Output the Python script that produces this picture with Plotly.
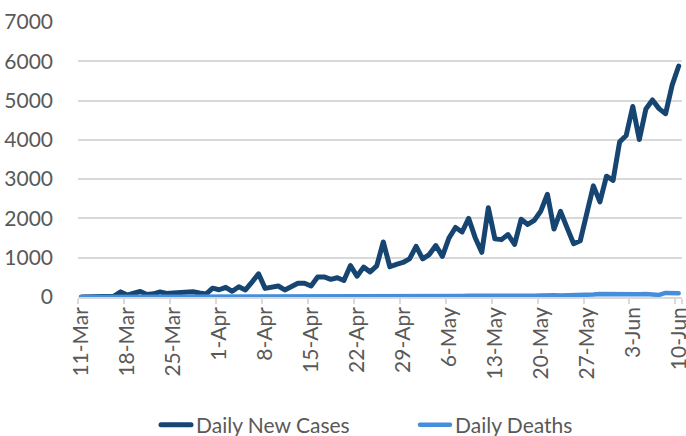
import pandas as pd
import plotly.graph_objects as go

# Categories: daily dates 11-Mar .. 10-Jun
dates = [d.strftime("%-d-%b") for d in pd.date_range("2020-03-11", "2020-06-10", freq="D")]

tick_labels = ["11-Mar", "18-Mar", "25-Mar", "1-Apr", "8-Apr", "15-Apr", "22-Apr",
               "29-Apr", "6-May", "13-May", "20-May", "27-May", "3-Jun", "10-Jun"]

daily_new_cases = [
    0, 2, 1, 5, 3, 20, 130, 50, 95, 140,
    65, 80, 130, 90, 100, 110, 115, 135, 100, 75,
    225, 185, 245, 145, 260, 180, 380, 590, 220, 250,
    280, 180, 265, 350, 350, 280, 510, 510, 450, 490,
    420, 800, 530, 760, 640, 790, 1400, 770, 830, 880,
    970, 1290, 970, 1080, 1310, 1035, 1500, 1770, 1655, 2000,
    1510, 1137, 2270, 1480, 1460, 1590, 1340, 1980, 1846, 1950,
    2190, 2615, 1730, 2180, 1760, 1355, 1430, 2145, 2830, 2420,
    3075, 2970, 3950, 4110, 4850, 4009, 4785, 5015, 4795, 4667,
    5393, 5880,
]

daily_deaths = [
    0, 0, 0, 0, 0, 0, 1, 0, 1, 0,
    1, 0, 2, 1, 2, 0, 3, 2, 1, 3,
    2, 3, 4, 5, 3, 6, 4, 7, 6, 8,
    9, 8, 10, 12, 9, 11, 14, 12, 15, 13,
    16, 14, 18, 15, 17, 20, 18, 22, 19, 21,
    24, 20, 23, 26, 22, 25, 28, 24, 27, 30,
    26, 29, 32, 28, 31, 35, 30, 34, 38, 33,
    40, 52, 42, 37, 39, 36, 38, 45, 62, 75,
    70, 68, 74, 72, 78, 69, 76, 70, 52, 105,
    100, 95,
]

y_ticks = [0, 1000, 2000, 3000, 4000, 5000, 6000, 7000]

DARK = "#174572"
LIGHT = "#448EDC"
GRID = "#D9D9D9"
TXT = "#595959"
FONT = "Lato, 'Open Sans', sans-serif"
FS = 21

fig = go.Figure()
fig.add_trace(go.Scatter(x=dates, y=daily_new_cases, mode="lines", name="Daily New Cases",
                         line=dict(color=DARK, width=5)))
fig.add_trace(go.Scatter(x=dates, y=daily_deaths, mode="lines", name="Daily Deaths",
                         line=dict(color=LIGHT, width=4.5)))

fig.update_layout(
    width=686, height=436,
    margin=dict(l=78, r=4, t=22, b=139, autoexpand=False),
    paper_bgcolor="white", plot_bgcolor="white",
    font=dict(family=FONT, size=FS, color=TXT),
    showlegend=True,
    legend=dict(orientation="h", x=(156 - 78) / 604, xanchor="left",
                y=(297 - 425) / 275, yanchor="middle",
                font=dict(family=FONT, size=FS, color=TXT),
                entrywidth=214, entrywidthmode="pixels",
                bgcolor="rgba(0,0,0,0)"),
)

fig.update_xaxes(
    type="category", range=[-0.5, len(dates) - 0.5],
    tickmode="array", tickvals=tick_labels, ticktext=tick_labels,
    tickson="boundaries", tickangle=-90,
    ticks="outside", ticklen=5, tickcolor=GRID, tickwidth=1.5,
    showline=True, linecolor=GRID, linewidth=1.5,
    showgrid=False, zeroline=False, automargin=False,
    tickfont=dict(family=FONT, size=FS, color=TXT),
)
fig.update_yaxes(
    range=[0, 7000], tickmode="array", tickvals=y_ticks,
    showgrid=True, gridcolor=GRID, gridwidth=1.5,
    zeroline=False, showline=False, ticks="",
    ticklabelstandoff=24, automargin=False,
    tickfont=dict(family=FONT, size=FS, color=TXT),
)

post = (
    "document.body.style.margin='0';document.body.style.overflow='hidden';"
    "document.querySelectorAll('.scatterlayer path.js-line, .legend path').forEach(function(p){"
    "p.style.strokeLinejoin='round';p.style.strokeLinecap='round';});"
)
fig.write_html("out.html", config={"displayModeBar": False}, post_script=post)
